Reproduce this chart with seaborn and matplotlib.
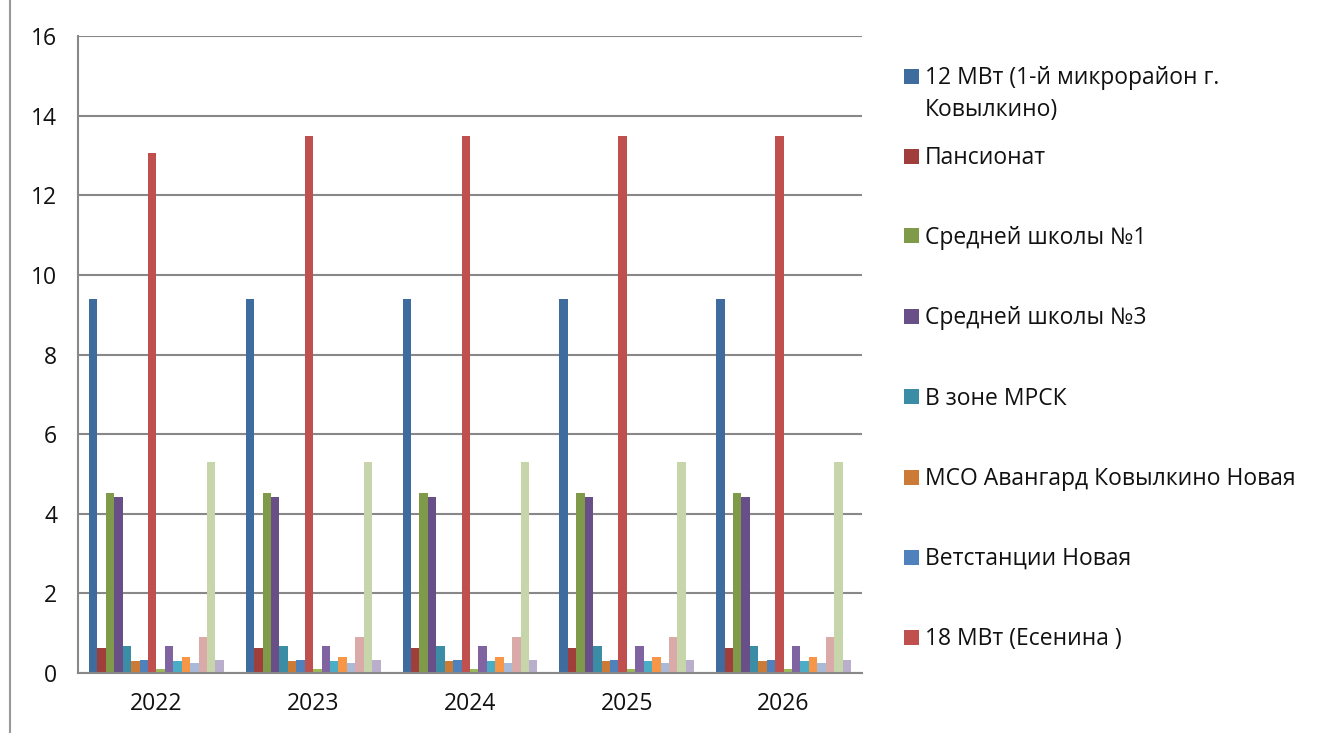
import numpy as np
import pandas as pd
import seaborn as sns
import matplotlib.pyplot as plt
from matplotlib.patches import Rectangle
from matplotlib.lines import Line2D

years = ["2022", "2023", "2024", "2025", "2026"]

series_names = [
    "12 МВт (1-й микрорайон г. Ковылкино)",
    "Пансионат",
    "Средней школы №1",
    "Средней школы №3",
    "В зоне МРСК",
    "МСО Авангард Ковылкино Новая",
    "Ветстанции Новая",
    "18 МВт (Есенина )",
    "Серия 9",
    "Серия 10",
    "Серия 11",
    "Серия 12",
    "Серия 13",
    "Серия 14",
    "Серия 15",
    "Серия 16",
]

# load per series, same for every year except the 18 MW line in 2022
s01 = [9.4, 9.4, 9.4, 9.4, 9.4]
s02 = [0.64, 0.64, 0.64, 0.64, 0.64]
s03 = [4.53, 4.53, 4.53, 4.53, 4.53]
s04 = [4.41, 4.41, 4.41, 4.41, 4.41]
s05 = [0.67, 0.67, 0.67, 0.67, 0.67]
s06 = [0.29, 0.29, 0.29, 0.29, 0.29]
s07 = [0.32, 0.32, 0.32, 0.32, 0.32]
s08 = [13.05, 13.5, 13.5, 13.5, 13.5]
s09 = [0.1, 0.1, 0.1, 0.1, 0.1]
s10 = [0.67, 0.67, 0.67, 0.67, 0.67]
s11 = [0.3, 0.3, 0.3, 0.3, 0.3]
s12 = [0.4, 0.4, 0.4, 0.4, 0.4]
s13 = [0.24, 0.24, 0.24, 0.24, 0.24]
s14 = [0.9, 0.9, 0.9, 0.9, 0.9]
s15 = [5.3, 5.3, 5.3, 5.3, 5.3]
s16 = [0.32, 0.32, 0.32, 0.32, 0.32]
series_values = [s01, s02, s03, s04, s05, s06, s07, s08,
                 s09, s10, s11, s12, s13, s14, s15, s16]

colors = [
    "#3F6C9F", "#A03E3C", "#7F9A48", "#684F87", "#3A8DA5", "#CC7B37",
    "#4F81BD", "#C0504D", "#9BBB59", "#8064A2", "#4BACC6", "#F79646",
    "#A9BAD9", "#DAAAA9", "#C6D6AA", "#B9AFCC",
]

legend_count = 8
legend_labels = [
    "12 МВт (1-й микрорайон г.\nКовылкино)",
    "Пансионат",
    "Средней школы №1",
    "Средней школы №3",
    "В зоне МРСК",
    "МСО Авангард Ковылкино Новая",
    "Ветстанции Новая",
    "18 МВт (Есенина )",
]

rows = []
for name, vals in zip(series_names, series_values):
    for y, v in zip(years, vals):
        rows.append({"year": y, "series": name, "value": v})
df = pd.DataFrame(rows)

sns.set_theme(style="white")
plt.rcParams["font.family"] = ["Open Sans", "DejaVu Sans"]

fig = plt.figure(figsize=(13.23, 7.33), dpi=100)
ax = fig.add_axes([78 / 1323, 1 - 673 / 733, (862 - 78) / 1323, (673 - 36) / 733])

sns.barplot(data=df, x="year", y="value", hue="series", order=years,
            hue_order=series_names, palette=colors, width=0.86,
            saturation=1, edgecolor="none", linewidth=0, legend=False, ax=ax)

grid_c = "#888888"
ax.set_ylim(0, 16)
ax.set_yticks(np.arange(0, 17, 2))
ax.set_xlim(-0.5, len(years) - 0.5)
ax.yaxis.grid(True, color=grid_c, linewidth=1.5)
ax.set_axisbelow(True)
ax.set_xlabel("")
ax.set_ylabel("")
for side in ["top", "right"]:
    ax.spines[side].set_visible(False)
for side in ["left", "bottom"]:
    ax.spines[side].set_color(grid_c)
    ax.spines[side].set_linewidth(1.5)

ax.set_xticks(np.arange(len(years)))
ax.set_xticklabels(years)
ax.set_xticks(np.arange(-0.5, len(years)), minor=True)
ax.tick_params(axis="x", which="major", length=0, pad=14, labelsize=16.5, labelcolor="#111111")
ax.tick_params(axis="x", which="minor", length=7, width=1.5, color=grid_c, direction="out")
ax.tick_params(axis="y", length=6, width=1.5, color=grid_c, direction="out", pad=9,
               labelsize=16.5, labelcolor="#111111")

# legend shows the first eight series only
handles_y = [76, 156, 236, 316, 397, 477, 557, 637]
for i in range(legend_count):
    yc = handles_y[i]
    fig.patches.append(Rectangle((904 / 1323, 1 - (yc + 7.5) / 733), 15 / 1323, 15 / 733,
                                 transform=fig.transFigure, facecolor=colors[i],
                                 edgecolor="none"))
    lines = legend_labels[i].split("\n")
    for k, line in enumerate(lines):
        fig.text(925 / 1323, 1 - (yc + 8 + 32 * k) / 733, line, fontsize=16.5,
                 color="#111111", va="baseline", ha="left")

# chart frame edge on the left
fig.add_artist(Line2D([10 / 1323, 10 / 1323], [0, 1], transform=fig.transFigure,
                      color="#999999", linewidth=1.5))

fig.savefig("out.png", dpi=100)
